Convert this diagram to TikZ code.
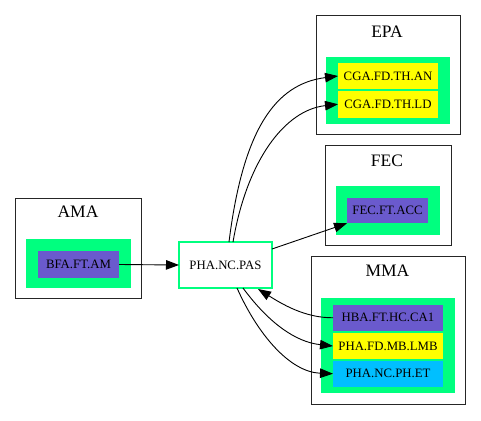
\documentclass[tikz,border=0pt]{standalone}
\usepackage{fontspec}
\setmainfont{Liberation Serif}
\usetikzlibrary{arrows.meta}
\definecolor{sgreen}{RGB}{0,255,127}
\definecolor{sblue}{RGB}{106,90,205}
\definecolor{dsky}{RGB}{0,191,255}
\definecolor{yel}{RGB}{255,255,0}
\begin{document}
\begin{tikzpicture}[x=1pt,y=-1pt,
  box/.style={rectangle,inner sep=0pt,outer sep=0pt,font=\fontsize{12.8}{14}\selectfont},
  clus/.style={rectangle,draw=black!85,line width=0.9pt,inner sep=0pt,outer sep=0pt},
  grn/.style={rectangle,fill=sgreen,inner sep=0pt,outer sep=0pt},
  ttl/.style={font=\fontsize{17.5}{20}\selectfont,inner sep=0pt},
  edge/.style={draw=black,line width=0.9pt,-{Triangle[length=13pt,width=9.5pt]}}]
\useasboundingbox (0,0) rectangle (481,420);
% clusters
\node[clus,minimum width=125.5pt,minimum height=100pt] (amaC) at (78.25,248) {};
\node[clus,minimum width=144pt,minimum height=119pt] (epaC) at (388,74.5) {};
\node[clus,minimum width=126pt,minimum height=100pt] (fecC) at (388,195) {};
\node[clus,minimum width=154pt,minimum height=148pt] (mmaC) at (388,330) {};
\node[ttl] (amaT) at (78,212) {AMA};
\node[ttl] (epaT) at (387,31.5) {EPA};
\node[ttl] (fecT) at (387,160.5) {FEC};
\node[ttl] (mmaT) at (387.5,270.5) {MMA};
% green groups
\node[grn,minimum width=105pt,minimum height=49pt] (amaG) at (78.5,263.5) {};
\node[grn,minimum width=124pt,minimum height=67pt] (epaG) at (388,90.5) {};
\node[grn,minimum width=104pt,minimum height=49pt] (fecG) at (388,210.5) {};
\node[grn,minimum width=134pt,minimum height=95pt] (mmaG) at (388,345.5) {};
% nodes
\node[box,fill=sblue,minimum width=81pt,minimum height=27pt] (bfa) at (78.5,264.5) {BFA.FT.AM};
\node[box,draw=sgreen,fill=white,line width=2pt,minimum width=93pt,minimum height=46pt] (pas) at (225.5,265) {PHA.NC.PAS};
\node[box,fill=yel,minimum width=100pt,minimum height=26.5pt] (an) at (388,76) {CGA.FD.TH.AN};
\node[box,fill=yel,minimum width=100pt,minimum height=26.5pt] (ld) at (388,104.25) {CGA.FD.TH.LD};
\node[box,fill=sblue,minimum width=81pt,minimum height=25.5pt] (acc) at (387.5,210.5) {FEC.FT.ACC};
\node[box,fill=sblue,minimum width=110pt,minimum height=26.5pt] (hba) at (388,317.75) {HBA.FT.HC.CA1};
\node[box,fill=yel,minimum width=110pt,minimum height=26pt] (lmb) at (388,346) {PHA.FD.MB.LMB};
\node[box,fill=dsky,minimum width=110pt,minimum height=26pt] (et) at (388,373.75) {PHA.NC.PH.ET};
% edges
\draw[edge] (bfa.east) -- (pas.west);
\draw[edge] ([xshift=3.5pt]pas.north) .. controls (243,130) and (275,84) .. (an.west);
\draw[edge] ([xshift=7.5pt]pas.north) .. controls (247,160) and (285,110) .. (ld.west);
\draw[edge] ([yshift=16pt]pas.east) -- (acc.south west);
\draw[edge] (hba.west) .. controls (305,318) and (282,304) .. ([xshift=32.5pt,yshift=-1pt]pas.south);
\draw[edge] ([xshift=17.5pt]pas.south) .. controls (268,322) and (295,342) .. (lmb.west);
\draw[edge] ([xshift=11.5pt]pas.south) .. controls (258,335) and (290,372) .. (et.west);
\end{tikzpicture}
\end{document}
